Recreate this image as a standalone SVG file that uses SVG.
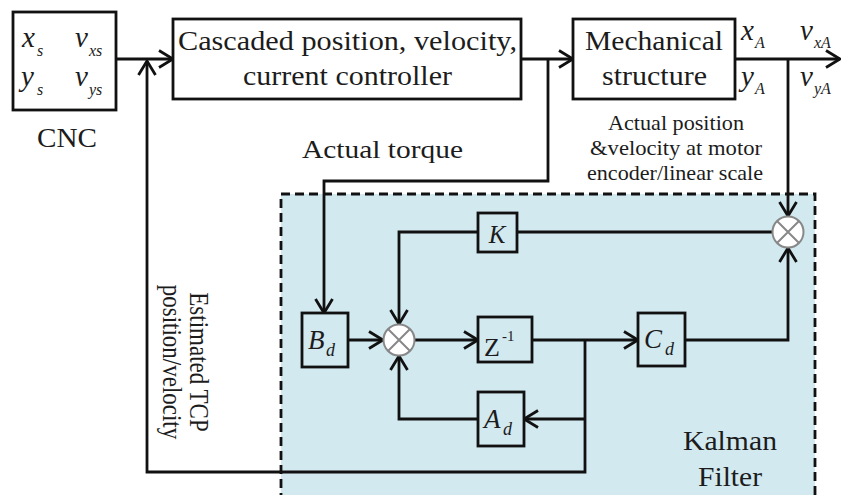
<svg xmlns="http://www.w3.org/2000/svg" width="846" height="495" viewBox="0 0 846 495">
<style>
.box{fill:none;stroke:#111;stroke-width:2.8}
.wbox{fill:#fff;stroke:#111;stroke-width:2.8}
.bbox{fill:#d2e9f0;stroke:#111;stroke-width:2.8}
.ln{fill:none;stroke:#111;stroke-width:2.8;stroke-linejoin:miter}
.arr{marker-end:url(#ah)}
text{font-family:'Liberation Serif',serif;fill:#1c1c1c}
.m{font-style:italic}
.sum circle{fill:#fff;stroke:#888;stroke-width:2}
.sum path{stroke:#888;stroke-width:2}
</style>
<defs>
<marker id="ah" markerUnits="userSpaceOnUse" viewBox="0 0 16 20" refX="15" refY="10" markerWidth="16" markerHeight="20" orient="auto">
<path d="M1,1.5 L15,10 L1,18.5" fill="none" stroke="#111" stroke-width="2.8"/>
</marker>
</defs>
<rect width="846" height="495" fill="#fff"/>

<g id="kalman">
<rect x="281" y="194" width="534" height="320" fill="#d2e9f0" stroke="#111" stroke-width="2.8" stroke-dasharray="9,5"/>
<text x="730" y="450" font-size="27" text-anchor="middle" textLength="94" lengthAdjust="spacingAndGlyphs">Kalman</text>
<text x="730" y="486" font-size="27" text-anchor="middle" textLength="64" lengthAdjust="spacingAndGlyphs">Filter</text>
</g>

<g id="connectors">
<path class="ln arr" d="M116,59 H173"/>
<path class="ln arr" d="M585,340 V472 H147 V61"/>
<path class="ln arr" d="M521,59 H573"/>
<path class="ln arr" d="M548,59 V181 H324 V313"/>
<path class="ln arr" d="M735,59 H840"/>
<path class="ln arr" d="M788,59 V216"/>
<path class="ln" d="M772,232 H517"/>
<path class="ln arr" d="M478,232 H399 V324"/>
<path class="ln arr" d="M348,340 H383"/>
<path class="ln arr" d="M415,340 H478"/>
<path class="ln arr" d="M532,340 H638"/>
<path class="ln arr" d="M685,340 H788 V248"/>
<path class="ln arr" d="M585,419 H524"/>
<path class="ln arr" d="M478,419 H399 V356"/>
</g>

<g id="cnc">
<rect class="wbox" x="13" y="12" width="103" height="98"/>
<text class="m" x="22" y="47" font-size="29">x</text>
<text class="m" x="37" y="56" font-size="16">s</text>
<text class="m" x="75" y="47" font-size="29">v</text>
<text class="m" x="89" y="56" font-size="16">xs</text>
<text class="m" x="21" y="86" font-size="29">y</text>
<text class="m" x="37" y="95" font-size="16">s</text>
<text class="m" x="75" y="86" font-size="29">v</text>
<text class="m" x="89" y="95" font-size="16">ys</text>
<text x="37" y="147" font-size="28" textLength="60" lengthAdjust="spacingAndGlyphs">CNC</text>
</g>

<g id="controller">
<rect class="wbox" x="173" y="19" width="348" height="80"/>
<text x="178" y="50" font-size="27" textLength="339" lengthAdjust="spacingAndGlyphs">Cascaded position, velocity,</text>
<text x="243" y="85" font-size="27" textLength="209" lengthAdjust="spacingAndGlyphs">current controller</text>
</g>

<g id="mechanical">
<rect class="wbox" x="573" y="19" width="162" height="80"/>
<text x="585" y="50" font-size="27" textLength="138" lengthAdjust="spacingAndGlyphs">Mechanical</text>
<text x="602" y="85" font-size="27" textLength="105" lengthAdjust="spacingAndGlyphs">structure</text>
</g>

<g id="outputs">
<text class="m" x="741" y="40" font-size="29">x</text>
<text class="m" x="755" y="48" font-size="16">A</text>
<text class="m" x="741" y="86" font-size="29">y</text>
<text class="m" x="755" y="94" font-size="16">A</text>
<text class="m" x="800" y="40" font-size="29">v</text>
<text class="m" x="814" y="48" font-size="16">xA</text>
<text class="m" x="800" y="86" font-size="29">v</text>
<text class="m" x="814" y="94" font-size="16">yA</text>
</g>

<g id="actual-position-label">
<text x="676" y="130" font-size="21" text-anchor="middle" textLength="136" lengthAdjust="spacingAndGlyphs">Actual position</text>
<text x="676" y="155" font-size="21" text-anchor="middle" textLength="172" lengthAdjust="spacingAndGlyphs">&amp;velocity at motor</text>
<text x="675" y="180" font-size="21" text-anchor="middle" textLength="176" lengthAdjust="spacingAndGlyphs">encoder/linear scale</text>
</g>

<g id="actual-torque-label">
<text x="302" y="158" font-size="25" textLength="161" lengthAdjust="spacingAndGlyphs">Actual torque</text>
</g>

<g id="estimated-label">
<text font-size="23" text-anchor="middle" transform="translate(190,362) scale(1.15,1) rotate(90)">Estimated TCP</text>
<text font-size="23" text-anchor="middle" transform="translate(163,362) scale(1.15,1) rotate(90)">position/velocity</text>
</g>

<g id="sum1" class="sum">
<circle cx="788" cy="232" r="15.5"/>
<path d="M777,221 L799,243 M799,221 L777,243"/>
</g>

<g id="sum2" class="sum">
<circle cx="399" cy="340" r="15.5"/>
<path d="M388,329 L410,351 M410,329 L388,351"/>
</g>

<g id="K">
<rect class="bbox" x="478" y="213" width="39" height="39"/>
<text class="m" x="497" y="243" font-size="25" text-anchor="middle">K</text>
</g>

<g id="Bd">
<rect class="bbox" x="302" y="313" width="46" height="54"/>
<text class="m" x="308" y="349" font-size="27">B</text>
<text class="m" x="326" y="356" font-size="18">d</text>
</g>

<g id="Zinv">
<rect class="bbox" x="478" y="317" width="54" height="45"/>
<text x="484" y="356" font-size="26">Z</text>
<text x="502" y="341" font-size="15">-1</text>
</g>

<g id="Cd">
<rect class="bbox" x="638" y="313" width="47" height="53"/>
<text class="m" x="644" y="348" font-size="27">C</text>
<text class="m" x="665" y="355" font-size="18">d</text>
</g>

<g id="Ad">
<rect class="bbox" x="478" y="392" width="46" height="54"/>
<text class="m" x="484" y="428" font-size="27">A</text>
<text class="m" x="503" y="435" font-size="18">d</text>
</g>
</svg>
